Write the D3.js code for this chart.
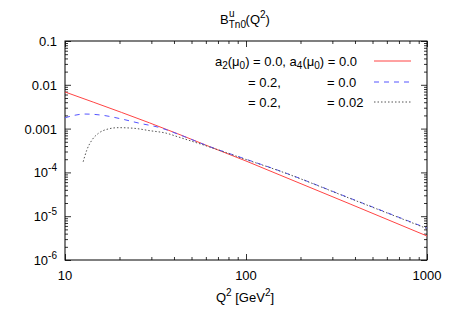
<!DOCTYPE html>
<html>
<head>
<meta charset="utf-8">
<script src="https://cdn.jsdelivr.net/npm/d3@7"></script>
<style>
	body { margin: 0; background: #fff; }
	svg { font-family: "Liberation Sans", Arial, sans-serif; }
</style>
</head>
<body>
<div id="chart"></div>
<script>
// values
const q2Red = [10, 42, 63, 100, 154, 376, 1000];
const bRed = [0.00686, 7.6e-4, 3.87e-4, 1.82e-4, 8.7e-5, 1.9e-5, 3.53e-6];

const q2Blue = [10, 12.9, 16.2, 20.9, 25.9, 33.5, 42, 63, 100, 154, 376, 1000];
const bBlue = [0.00177, 0.00215, 0.00201, 0.00163, 0.00132, 0.00105, 7.5e-4, 3.87e-4, 2.0e-4, 1.08e-4, 2.57e-5, 5.3e-6];

const q2Black = [12.6, 13.2, 14.1, 15.3, 17.0, 19.7, 23.8, 29.5, 36.5, 42, 63, 100, 154, 376, 1000];
const bBlack = [1.75e-4, 3.24e-4, 5.5e-4, 7.8e-4, 9.6e-4, 1.05e-3, 1.02e-3, 8.95e-4, 7.8e-4, 6.5e-4, 3.8e-4, 1.97e-4, 1.07e-4, 2.54e-5, 5.2e-6];

const xTicks = [10, 100, 1000];
const yTicks = [0.1, 0.01, 0.001, 1e-4, 1e-5, 1e-6];
const yLabels = [["0.1"], ["0.01"], ["0.001"], ["10", "-4"], ["10", "-5"], ["10", "-6"]];

const width = 451,
	height = 316,
	mLeft = 65,
	mRight = 427,
	mTop = 41,
	mBottom = 260;

const svg = d3
	.select("#chart")
	.append("svg")
	.attr("width", width)
	.attr("height", height);

const x = d3.scaleLog().domain([10, 1000]).range([mLeft, mRight]);
const y = d3.scaleLog().domain([1e-6, 0.1]).range([mBottom, mTop]);

const isMajor = (v) => Math.abs(Math.log10(v) - Math.round(Math.log10(v))) < 1e-6;

// axes, ticks inward on all four sides
function styleTicks(g, sign, horiz) {
	g.select(".domain").remove();
	g.selectAll(".tick line")
		.attr("stroke", "#333")
		.attr(horiz ? "y2" : "x2", (d) => sign * (isMajor(d) ? 6 : 3));
	g.selectAll("text").remove();
}

svg.append("g")
	.attr("transform", `translate(0,${mBottom})`)
	.call(d3.axisBottom(x))
	.call((g) => styleTicks(g, -1, true));
svg.append("g")
	.attr("transform", `translate(0,${mTop})`)
	.call(d3.axisTop(x))
	.call((g) => styleTicks(g, 1, true));

const yMinor = [];
yTicks.slice(1).forEach((t) => {
	for (let k = 1; k <= 9; k++) yMinor.push(t * k);
});
yMinor.push(0.1);

svg.append("g")
	.attr("transform", `translate(${mLeft},0)`)
	.call(d3.axisLeft(y).tickValues(yMinor))
	.call((g) => styleTicks(g, 1, false));
svg.append("g")
	.attr("transform", `translate(${mRight},0)`)
	.call(d3.axisRight(y).tickValues(yMinor))
	.call((g) => styleTicks(g, -1, false));

// tick labels
svg.append("g")
	.selectAll("text")
	.data(xTicks)
	.join("text")
	.attr("x", (d) => x(d))
	.attr("y", mBottom + 20)
	.attr("text-anchor", "middle")
	.attr("font-size", 13)
	.text((d) => d);

const yl = svg.append("g")
	.selectAll("text")
	.data(yTicks)
	.join("text")
	.attr("x", mLeft - 8)
	.attr("y", (d) => y(d) + 5)
	.attr("text-anchor", "end")
	.attr("font-size", 13);
yl.each(function (d, i) {
	const t = d3.select(this);
	const lab = yLabels[i];
	t.append("tspan").text(lab[0]);
	if (lab[1]) t.append("tspan").attr("dy", -6).attr("font-size", 10).text(lab[1]);
});

// frame
svg.append("rect")
	.attr("x", mLeft)
	.attr("y", mTop)
	.attr("width", mRight - mLeft)
	.attr("height", mBottom - mTop)
	.attr("fill", "none")
	.attr("stroke", "#000");

// curves
svg.append("clipPath").attr("id", "clip")
	.append("rect")
	.attr("x", mLeft).attr("y", mTop)
	.attr("width", mRight - mLeft).attr("height", mBottom - mTop);

const line = d3.line().curve(d3.curveMonotoneX);
const series = [
	{ xs: q2Red, ys: bRed, color: "#ff4444", dash: null },
	{ xs: q2Blue, ys: bBlue, color: "#5555ff", dash: "5,5" },
	{ xs: q2Black, ys: bBlack, color: "#555", dash: "1.5,2" }
];
series.forEach((s) => {
	svg.append("path")
		.attr("clip-path", "url(#clip)")
		.attr("d", line(s.xs.map((q, i) => [x(q), y(s.ys[i])])))
		.attr("fill", "none")
		.attr("stroke", s.color)
		.attr("stroke-width", 1)
		.attr("stroke-dasharray", s.dash);
});

// legend
const legRows = [61, 82, 102];
const row1 = svg.append("text")
	.attr("x", 357)
	.attr("y", legRows[0] + 5)
	.attr("text-anchor", "end")
	.attr("font-size", 13);
row1.append("tspan").text("a");
row1.append("tspan").attr("dy", 3).attr("font-size", 10).text("2");
row1.append("tspan").attr("dy", -3).text("(μ");
row1.append("tspan").attr("dy", 3).attr("font-size", 10).text("0");
row1.append("tspan").attr("dy", -3).text(") = 0.0, a");
row1.append("tspan").attr("dy", 3).attr("font-size", 10).text("4");
row1.append("tspan").attr("dy", -3).text("(μ");
row1.append("tspan").attr("dy", 3).attr("font-size", 10).text("0");
row1.append("tspan").attr("dy", -3).text(") = 0.0");

const legA = ["= 0.2,", "= 0.2,"];
const legB = ["= 0.0", "= 0.02"];
legA.forEach((t, i) => {
	svg.append("text").attr("x", 248).attr("y", legRows[i + 1] + 5)
		.attr("font-size", 13).text(t);
	svg.append("text").attr("x", 327).attr("y", legRows[i + 1] + 5)
		.attr("font-size", 13).text(legB[i]);
});
series.forEach((s, i) => {
	svg.append("line")
		.attr("x1", 374).attr("x2", 411)
		.attr("y1", legRows[i]).attr("y2", legRows[i])
		.attr("stroke", s.color)
		.attr("stroke-dasharray", s.dash);
});

// title and axis label
const title = svg.append("text")
	.attr("x", 245)
	.attr("y", 24)
	.attr("text-anchor", "middle")
	.attr("font-size", 13);
title.append("tspan").text("B");
title.append("tspan").attr("dy", 4).attr("font-size", 10).text("Tn0");
title.append("tspan").attr("dx", -17).attr("dy", -11).attr("font-size", 10).text("u");
title.append("tspan").attr("dx", 11).attr("dy", 7).text("(Q");
title.append("tspan").attr("dy", -6).attr("font-size", 10).text("2");
title.append("tspan").attr("dy", 6).text(")");

const xl = svg.append("text")
	.attr("x", 245)
	.attr("y", 302)
	.attr("text-anchor", "middle")
	.attr("font-size", 13);
xl.append("tspan").text("Q");
xl.append("tspan").attr("dy", -6).attr("font-size", 10).text("2");
xl.append("tspan").attr("dy", 6).text(" [GeV");
xl.append("tspan").attr("dy", -6).attr("font-size", 10).text("2");
xl.append("tspan").attr("dy", 6).text("]");
</script>
</body>
</html>
